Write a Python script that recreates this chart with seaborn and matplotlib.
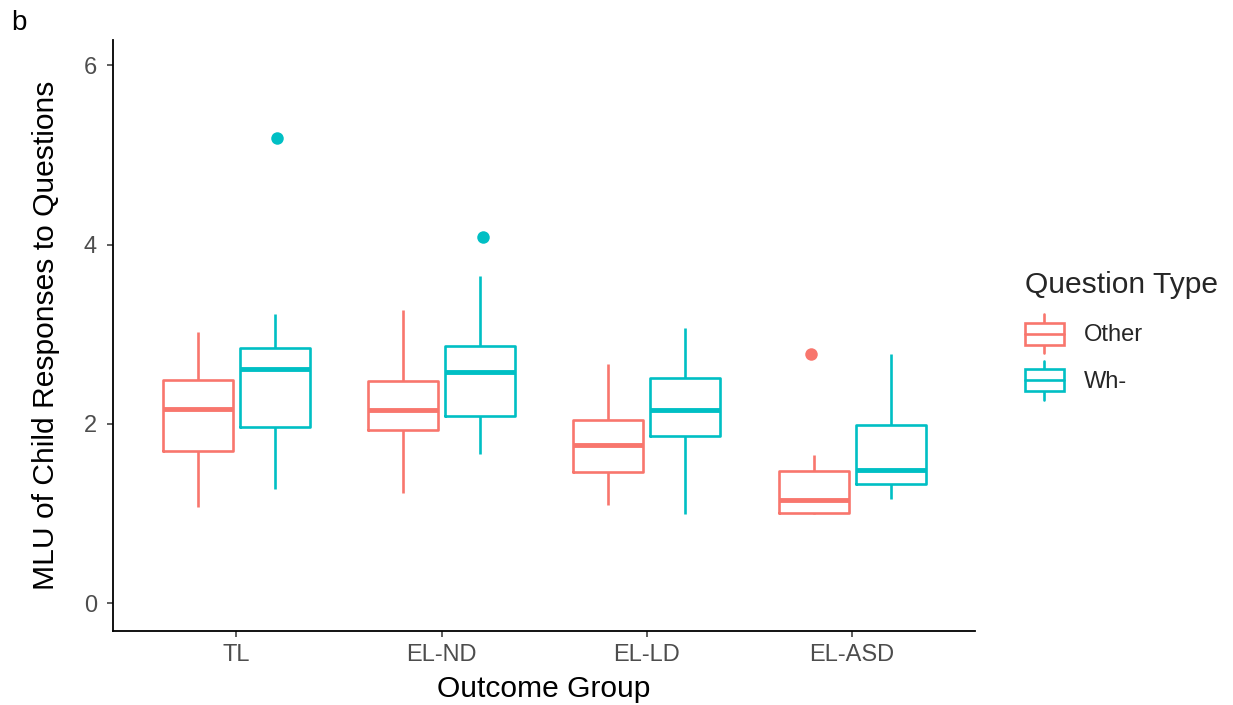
import numpy as np
import pandas as pd
import matplotlib
matplotlib.use("Agg")
import matplotlib.pyplot as plt
import seaborn as sns
from matplotlib.patches import Patch, Rectangle
from matplotlib.lines import Line2D
from matplotlib.legend_handler import HandlerBase

groups = ["TL", "EL-ND", "EL-LD", "EL-ASD"]
qtypes = ["Other", "Wh-"]

# five-number summaries: lower whisker, Q1, median, Q3, upper whisker
other_low = [1.07, 1.23, 1.10, 1.00]
other_q1 = [1.70, 1.93, 1.46, 1.01]
other_med = [2.17, 2.16, 1.76, 1.15]
other_q3 = [2.49, 2.48, 2.04, 1.47]
other_high = [3.03, 3.27, 2.67, 1.65]

wh_low = [1.27, 1.66, 1.00, 1.16]
wh_q1 = [1.97, 2.09, 1.86, 1.33]
wh_med = [2.61, 2.58, 2.16, 1.49]
wh_q3 = [2.85, 2.87, 2.51, 1.99]
wh_high = [3.23, 3.65, 3.07, 2.78]

# outliers
out_group = ["TL", "EL-ND", "EL-ASD"]
out_type = ["Wh-", "Wh-", "Other"]
out_value = [5.19, 4.08, 2.78]

rows = []
for i, g in enumerate(groups):
    for v in [other_low[i], other_q1[i], other_med[i], other_q3[i], other_high[i]]:
        rows.append((g, "Other", v))
    for v in [wh_low[i], wh_q1[i], wh_med[i], wh_q3[i], wh_high[i]]:
        rows.append((g, "Wh-", v))
df = pd.DataFrame(rows, columns=["group", "qtype", "mlu"])
outliers = pd.DataFrame({"group": out_group, "qtype": out_type, "mlu": out_value})

palette = {"Other": "#F8766D", "Wh-": "#00BFC4"}

sns.set_theme(style="ticks")
plt.rcParams["font.family"] = ["Liberation Sans", "DejaVu Sans"]

fig = plt.figure(figsize=(12.33, 7.05), dpi=100)
ax = fig.add_axes([0.0917, 0.105, 0.6993, 0.838])

sns.boxplot(data=df, x="group", y="mlu", hue="qtype", order=groups,
            hue_order=qtypes, palette=palette, fill=False, whis=np.inf,
            width=0.75, gap=0.09, linewidth=1.9, showcaps=False,
            medianprops={"linewidth": 3.5}, ax=ax, legend=False)
sns.stripplot(data=outliers, x="group", y="mlu", hue="qtype", order=groups,
              hue_order=qtypes, palette=palette, dodge=True, jitter=False,
              size=9, linewidth=0, ax=ax, legend=False)

ax.set_xlim(-0.6, 3.6)
ax.set_ylim(-0.31, 6.28)
ax.set_yticks([0, 2, 4, 6])
sns.despine(ax=ax)
for s in ["left", "bottom"]:
    ax.spines[s].set_linewidth(1.3)
    ax.spines[s].set_color("black")
ax.tick_params(axis="both", colors="#333333", labelcolor="#4D4D4D",
               labelsize=17, length=4.5, width=1.1)
ax.tick_params(axis="x", pad=5)
ax.tick_params(axis="y", pad=7)
ax.set_xlabel("Outcome Group", fontsize=21.6, color="black", labelpad=6)
ax.set_ylabel("MLU of Child Responses to Questions", fontsize=21.6,
              color="black", labelpad=17)


class BoxHandler(HandlerBase):
    def create_artists(self, legend, orig_handle, xdescent, ydescent,
                       width, height, fontsize, trans):
        c = orig_handle.get_edgecolor()
        x0, y0 = -xdescent, -ydescent
        bx0, bx1 = x0, x0 + width
        by0, by1 = y0 + 0.22 * height, y0 + 0.78 * height
        xm = x0 + 0.5 * width
        box = Rectangle((bx0, by0), bx1 - bx0, by1 - by0, facecolor="white",
                        edgecolor=c, linewidth=1.9, transform=trans)
        med = Line2D([bx0, bx1], [y0 + 0.5 * height] * 2, color=c,
                     linewidth=1.9, transform=trans)
        w1 = Line2D([xm, xm], [y0, by0], color=c, linewidth=1.9, transform=trans)
        w2 = Line2D([xm, xm], [by1, y0 + height], color=c, linewidth=1.9,
                    transform=trans)
        return [w1, w2, box, med]


handles = [Patch(edgecolor=palette[q], facecolor="white") for q in qtypes]
leg = fig.legend(handles, qtypes, handler_map={Patch: BoxHandler()},
                 title="Question Type", loc="upper left",
                 bbox_to_anchor=(0.8216, 0.6325), frameon=False, fontsize=17,
                 title_fontsize=21.6, handlelength=1.65, handleheight=2.16,
                 labelspacing=0.33, handletextpad=0.85, borderpad=0,
                 alignment="left")
# a bit more room between the legend title and its keys
leg._legend_box.sep = 11

fig.text(0.009, 0.958, "b", fontsize=20, color="black")

fig.savefig("out.png", dpi=100)
